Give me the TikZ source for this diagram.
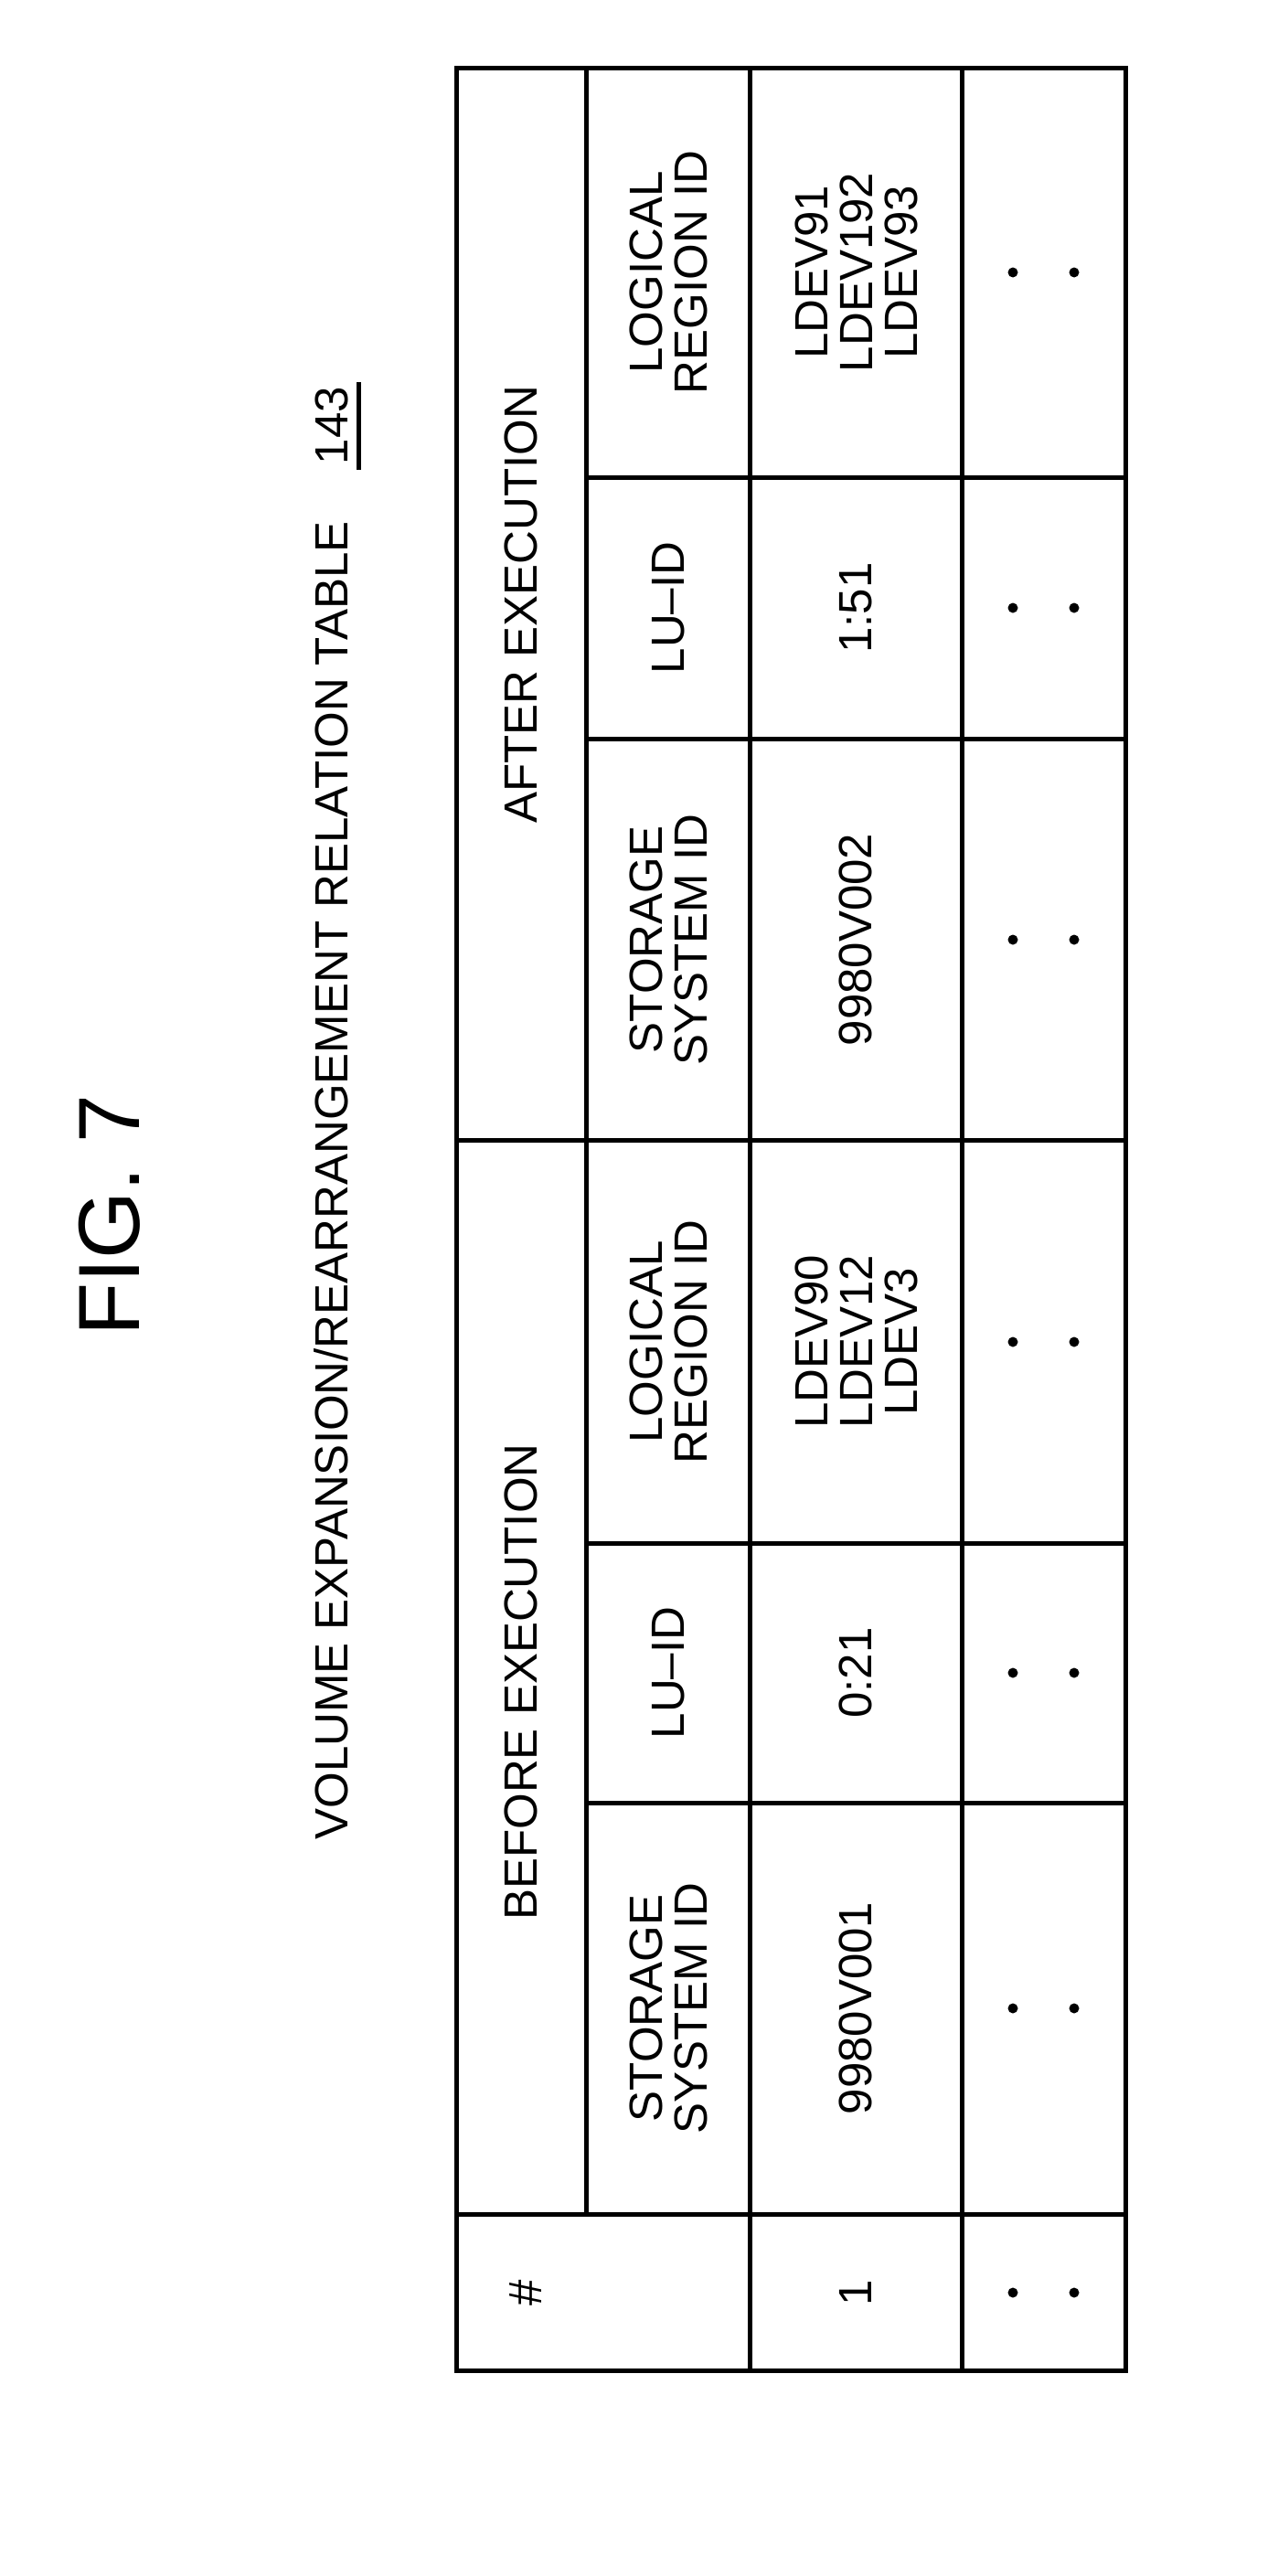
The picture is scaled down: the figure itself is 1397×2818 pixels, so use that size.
\documentclass[tikz,border=0pt]{standalone}
\usepackage{fontspec}
\setmainfont{Liberation Sans}
\begin{document}
\begin{tikzpicture}[x=1pt,y=-1pt,
  cell/.style={rotate=90, align=center, inner sep=0pt, font=\fontsize{51}{49}\selectfont},
  grid/.style={line width=5pt, line cap=rect},
  dotmark/.style={circle, fill=black, draw=none, inner sep=0pt, minimum size=11pt}]
\useasboundingbox (0,0) rectangle (1397,2818);
% titles
\node[rotate=90, inner sep=0pt, anchor=base, font=\fontsize{95}{110}\selectfont] (fig) at (152,1330) {FIG. 7};
\node[rotate=90, inner sep=0pt, anchor=base east, font=\fontsize{51}{60}\selectfont] (title) at (380,570) {VOLUME EXPANSION/REARRANGEMENT RELATION TABLE};
\node[rotate=90, inner sep=0pt, anchor=base east, font=\fontsize{51}{60}\selectfont] (num) at (380,423) {143};
\draw[line width=5pt] (392,418) -- (392,514);
% grid
\draw[grid] (499,75) rectangle (1231,2593);
\draw[grid] (641,75) -- (641,2422);
\draw[grid] (820,75) -- (820,2593);
\draw[grid] (1052,75) -- (1052,2593);
\draw[grid] (499,1247) -- (1231,1247);
\draw[grid] (499,2422) -- (1231,2422);
\foreach \yy in {522,808,1688,1972} \draw[grid] (641,\yy) -- (1231,\yy);
% group headers
\node[cell] (after) at (570,661) {AFTER EXECUTION};
\node[cell] (before) at (570,1840) {BEFORE EXECUTION};
% column headers
\node[cell] (hAL) at (731,298) {LOGICAL\\REGION ID};
\node[cell] (hALU) at (731,665) {LU–ID};
\node[cell] (hAS) at (731,1028) {STORAGE\\SYSTEM ID};
\node[cell] (hBL) at (731,1468) {LOGICAL\\REGION ID};
\node[cell] (hBLU) at (731,1830) {LU–ID};
\node[cell] (hBS) at (731,2197) {STORAGE\\SYSTEM ID};
\node[cell] (hN) at (575,2508) {\#};
% data row
\node[cell] (dAL) at (937,298) {LDEV91\\LDEV192\\LDEV93};
\node[cell] (dALU) at (936,665) {1:51};
\node[cell] (dAS) at (936,1028) {9980V002};
\node[cell] (dBL) at (937,1468) {LDEV90\\LDEV12\\LDEV3};
\node[cell] (dBLU) at (936,1830) {0:21};
\node[cell] (dBS) at (936,2197) {9980V001};
\node[cell] (dN) at (936,2508) {1};
% dots row
\foreach \yy/\nm in {298/a,665/b,1028/c,1468/d,1830/e,2197/f,2508/g} {
  \node[dotmark] (p\nm1) at (1108,\yy) {};
  \node[dotmark] (p\nm2) at (1175,\yy) {};
}
\end{tikzpicture}
\end{document}
